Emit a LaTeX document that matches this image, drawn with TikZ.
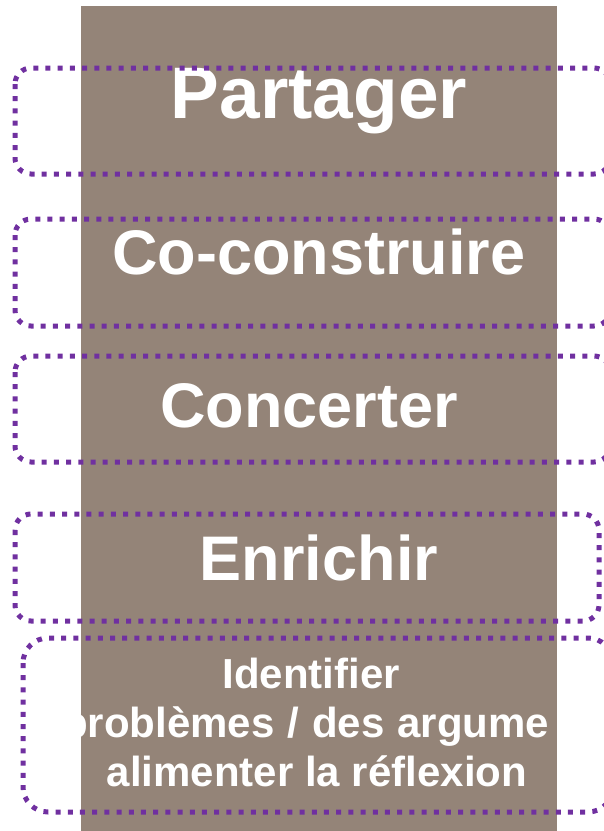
\documentclass[tikz,border=0pt]{standalone}
\usepackage{fontspec}
\setmainfont{Liberation Sans}
\usepackage{tikz}
\tikzset{>=latex}
\definecolor{taupe}{RGB}{148,132,120}
\definecolor{violet}{RGB}{112,48,160}

\begin{document}
\begin{tikzpicture}[x=1pt,y=-1pt,
	frame/.style={violet,line width=5pt,dash pattern=on 5pt off 7.2pt,rounded corners=16pt},
	word/.style={white,inner sep=0pt,anchor=base}]
			\useasboundingbox (0,0) rectangle (604,831);
			\fill[taupe] (81,6) rectangle (557,831);
			\node[word,font=\fontsize{73}{73}\selectfont\bfseries] (partager) at (319,118) {Partager};
			\node[word,font=\fontsize{63}{63}\selectfont\bfseries] (coconstruire) at (319,274) {Co-construire};
			\node[word,font=\fontsize{63}{63}\selectfont\bfseries] (concerter) at (309,427) {Concerter};
			\node[word,font=\fontsize{63}{63}\selectfont\bfseries] (enrichir) at (319,580) {Enrichir};
			\begin{scope}
				\clip (81,6) rectangle (557,831);
				\node[word,font=\fontsize{42}{42}\selectfont\bfseries] (identifier) at (311,688) {Identifier};
				\node[word,anchor=base west,font=\fontsize{42}{42}\selectfont\bfseries] (problemes) at (62,737) {\spaceskip 13pt\relax problèmes / des argume};
				\node[word,font=\fontsize{42}{42}\selectfont\bfseries] (alimenter) at (317,786) {alimenter la réflexion};
			\end{scope}
			\draw[frame] (15,68) rectangle (610,174);
			\draw[frame] (15,219) rectangle (610,326);
			\draw[frame] (15,356) rectangle (610,462);
			\draw[frame] (15,514) rectangle (599,621);
			\draw[frame,rounded corners=25pt] (23,638) rectangle (613,812);
		\end{tikzpicture}
\end{document}
